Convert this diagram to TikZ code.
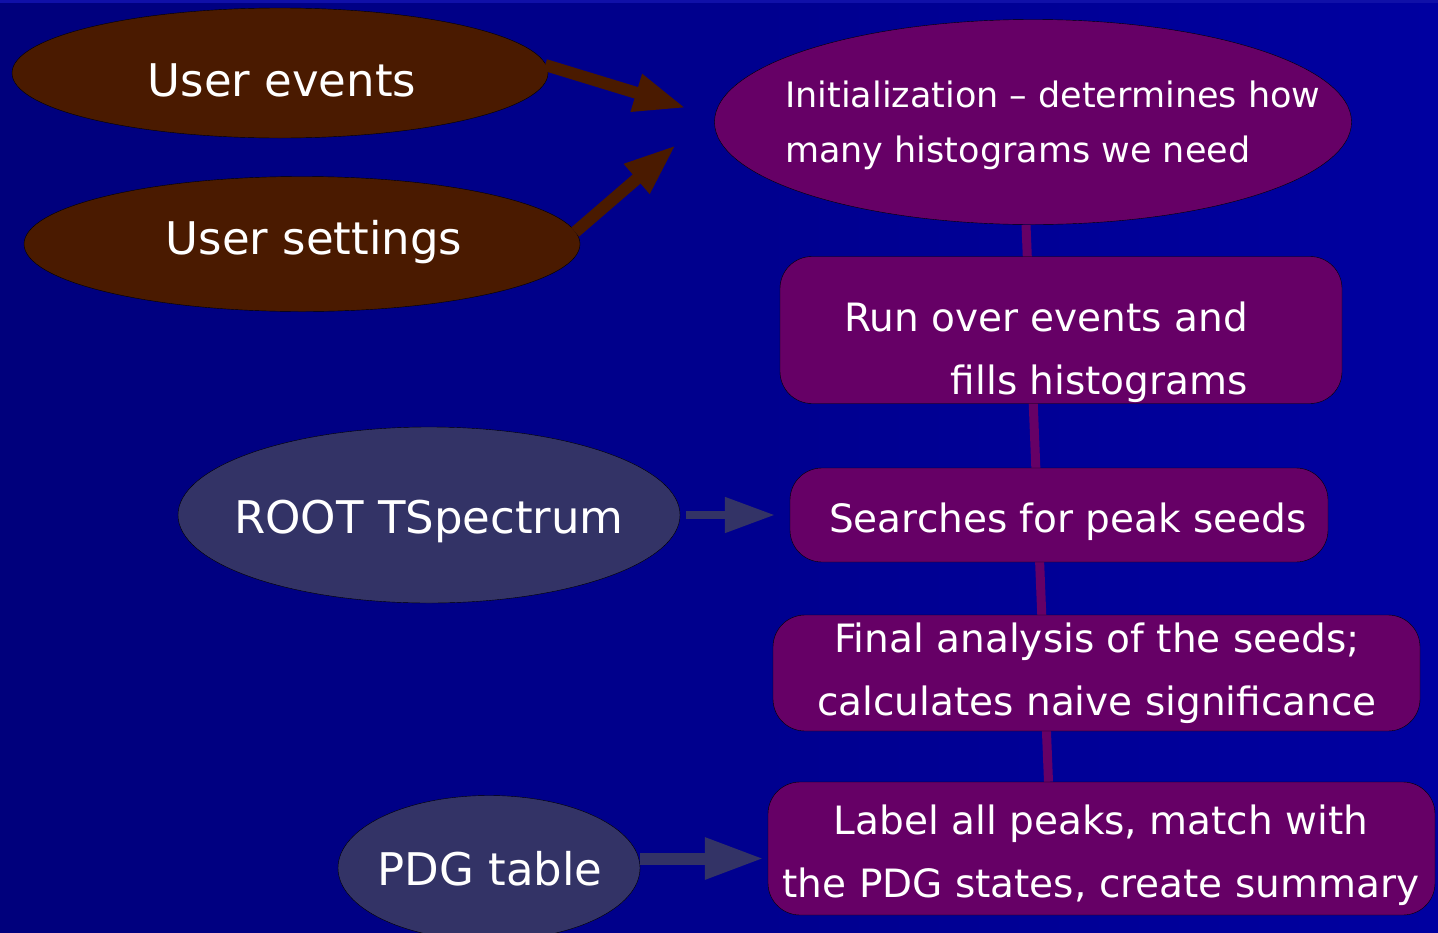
\documentclass[tikz,border=0pt]{standalone}
\usepackage{fontspec}
\setmainfont{DejaVu Sans}
\usetikzlibrary{shapes.geometric,arrows.meta,backgrounds}
\definecolor{bgleft}{HTML}{00007C}
\definecolor{bgright}{HTML}{0000A0}
\definecolor{bgtop}{HTML}{1010A8}
\definecolor{brownfill}{HTML}{4A1A00}
\definecolor{plumfill}{HTML}{660066}
\definecolor{slatefill}{HTML}{333366}
\tikzset{
 inputblob/.style={ellipse, draw=black, thin, inner sep=0},
 blobtext/.style={text=white, font=\fontsize{45}{54}\selectfont, inner sep=0},
 stagebox/.style={draw=black, thin, fill=plumfill, rounded corners=32pt, inner sep=0},
 stagetext/.style={text=white, inner sep=0, font=\fontsize{39}{63}\selectfont, align=center},
 brownfeed/.style={draw=brownfill, line width=12pt, -{Triangle[length=52pt,width=36pt]}},
 slatefeed/.style={draw=slatefill, -{Triangle[length=50pt,width=34pt]}},
 chain/.style={draw=plumfill, line width=9pt},
}
\begin{document}
\begin{tikzpicture}[x=1pt,y=-1pt]
\useasboundingbox (0,0) rectangle (1438,932);
% inputs
\node[inputblob, fill=brownfill, minimum width=536pt, minimum height=130pt] (evts) at (280,73) {};
\node[blobtext] (evtstext) at (282,80) {User events};
\node[inputblob, fill=brownfill, minimum width=556pt, minimum height=135pt] (sett) at (302,244) {};
\node[blobtext] (setttext) at (314,242) {User settings};
\node[inputblob, fill=slatefill, minimum width=502pt, minimum height=176pt] (root) at (429,515) {};
\node[blobtext] (roottext) at (429,521) {ROOT TSpectrum};
\node[inputblob, fill=slatefill, minimum width=302pt, minimum height=145pt] (pdg) at (489,868) {};
\node[blobtext] (pdgtext) at (490,869) {PDG table};
% stages
\node[inputblob, fill=plumfill, minimum width=637pt, minimum height=205pt] (init) at (1033,122) {};
\node[text=white, inner sep=0, align=left, anchor=west, font=\fontsize{35}{55}\selectfont] (inittext) at (785,125)
  {Initialization -- determines how\\many histograms we need};
\node[stagebox, minimum width=562pt, minimum height=147pt] (run) at (1061,330) {};
\node[stagetext, align=right, anchor=east] (runtext) at (1248,352) {Run over events and\\fills histograms};
\node[stagebox, minimum width=538pt, minimum height=94pt] (search) at (1059,515) {};
\node[stagetext] (searchtext) at (1068,522) {Searches for peak seeds};
\node[stagebox, minimum width=647pt, minimum height=116pt] (final) at (1096.5,673) {};
\node[stagetext] (finaltext) at (1097,673) {Final analysis of the seeds;\\calculates naive significance};
\node[stagebox, minimum width=667pt, minimum height=133pt] (label) at (1101.5,848.5) {};
\node[stagetext] (labeltext) at (1101,855) {Label all peaks, match with\\the PDG states, create summary};
% arrows
\coordinate (initin1) at (686,108);
\coordinate (initin2) at (676,145);
\coordinate (labelin) at ([yshift=-10pt]label.west);
\draw[brownfeed] ([xshift=-3pt,yshift=8pt]evts.east) -- (initin1);
\draw[brownfeed] ([xshift=-5pt,yshift=12pt]sett.east) -- (initin2);
\draw[slatefeed, line width=8pt, shorten <=6pt, shorten >=15pt] (root.east) -- (search.west);
\draw[slatefeed, line width=12pt, -{Triangle[length=59pt,width=39pt]}, shorten >=4pt] (pdg.east |- labelin) -- (labelin);
\begin{scope}[on background layer]
\shade[left color=bgleft, right color=bgright] (0,0) rectangle (1438,932);
\fill[bgtop] (0,0) rectangle (1438,3);
\draw[chain] ([xshift=-7pt]init.south) -- ([xshift=-53pt]label.north);
\end{scope}
\end{tikzpicture}
\end{document}
